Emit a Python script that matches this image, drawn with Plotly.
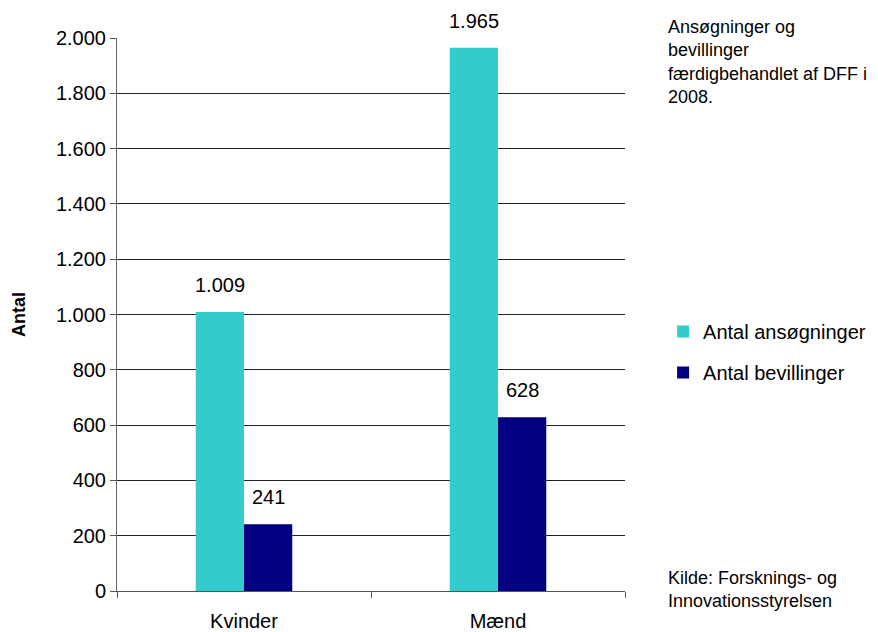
import plotly.graph_objects as go

categories = ["Kvinder", "Mænd"]
ansogninger = [1009, 1965]
bevillinger = [241, 628]
series_names = ["Antal ansøgninger", "Antal bevillinger"]
series_colors = ["#33CCCC", "#000080"]
tick_values = [0, 200, 400, 600, 800, 1000, 1200, 1400, 1600, 1800, 2000]

FONT = "Liberation Sans, Arial, sans-serif"

fig = go.Figure()
for name, vals, col in zip(series_names, [ansogninger, bevillinger], series_colors):
    fig.add_trace(go.Bar(
        x=categories, y=vals, name=name, legendgroup=name,
        marker=dict(color=col, line=dict(width=0)),
    ))

# value labels above bars
annos = []
for vals, shift in [(ansogninger, -24), (bevillinger, 24)]:
    for c, v in zip(categories, vals):
        annos.append(dict(x=c, y=v, xref="x", yref="y", text=f"{v:,}".replace(",", "."),
                          showarrow=False, xshift=shift, yshift=27, yanchor="middle",
                          font=dict(size=20, family=FONT, color="black")))

annos += [
    dict(text="Ansøgninger og<br>bevillinger<br>færdigbehandlet af DFF i<br>2008.",
         xref="paper", yref="paper", x=(666-117)/508, y=(591-15)/553,
         xanchor="left", yanchor="top", align="left", showarrow=False,
         font=dict(size=18, family=FONT)),
    dict(text="Kilde: Forsknings- og<br>Innovationsstyrelsen",
         xref="paper", yref="paper", x=(666-117)/508, y=(591-566)/553,
         xanchor="left", yanchor="top", align="left", showarrow=False,
         font=dict(size=18, family=FONT)),
]

fig.update_layout(
    width=878, height=632,
    margin=dict(l=109, r=261, t=30, b=49, autoexpand=False),
    paper_bgcolor="white", plot_bgcolor="white",
    separators=",.",
    barmode="group", bargap=0.62, bargroupgap=0,
    font=dict(family=FONT, size=20, color="black"),
    legend=dict(x=1.075, y=(591-352)/553, xanchor="left", yanchor="middle",
                font=dict(size=20), traceorder="grouped", tracegroupgap=12,
                bgcolor="rgba(0,0,0,0)"),
    xaxis=dict(showline=True, linecolor="#555555", linewidth=1,
               ticks="outside", ticklen=6, tickcolor="#555555",
               tickson="boundaries", showgrid=False, ticklabelstandoff=12,
               automargin=False, tickfont=dict(size=20)),
    yaxis=dict(range=[0, 2000], tickvals=tick_values, tickformat=",d",
               showline=True, linecolor="#666666", linewidth=1,
               ticks="outside", ticklen=6, tickcolor="#555555",
               showgrid=True, gridcolor="#222222", gridwidth=1,
               zeroline=False, tickfont=dict(size=20), automargin=False,
               title=dict(text="<b>Antal</b>", font=dict(size=18), standoff=25)),
    annotations=annos,
)

fig.write_html("out.html")
